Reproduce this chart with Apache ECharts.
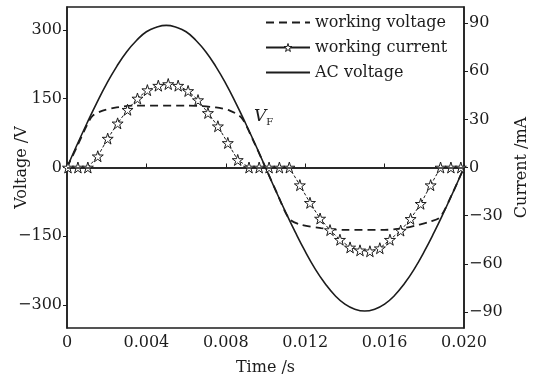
<!DOCTYPE html>
<html>
<head>
<meta charset="utf-8">
<script src="https://cdn.jsdelivr.net/npm/echarts@6/dist/echarts.min.js"></script>
<style>
  html, body { margin: 0; padding: 0; background: #fff; }
  #chart { width: 542px; height: 379px; }
</style>
</head>
<body>
<div id="chart"></div>
<script>
// values
var acTime = [0, 0.0005, 0.001, 0.0015, 0.002, 0.0025, 0.003, 0.0035, 0.004, 0.0045,
  0.005, 0.0055, 0.006, 0.0065, 0.007, 0.0075, 0.008, 0.0085, 0.009, 0.0095,
  0.010, 0.0105, 0.011, 0.0115, 0.012, 0.0125, 0.013, 0.0135, 0.014, 0.0145,
  0.015, 0.0155, 0.016, 0.0165, 0.017, 0.0175, 0.018, 0.0185, 0.019, 0.0195, 0.020];
var acVoltage = [0, 49, 96, 141, 183, 220, 252, 277, 296, 306,
  310, 306, 296, 277, 252, 220, 183, 141, 96, 49,
  0, -49, -96, -141, -183, -221, -253, -279, -298, -309,
  -313, -309, -298, -279, -253, -221, -183, -141, -96, -49, 0];

var wvTime = [0, 0.0005, 0.001, 0.0013, 0.0018, 0.0025, 0.0035, 0.006, 0.0075, 0.0082,
  0.0088, 0.0094, 0.010, 0.0106, 0.0112, 0.0118, 0.0128, 0.014, 0.016, 0.017,
  0.0177, 0.0183, 0.0188, 0.0194, 0.020];
var workingVoltage = [0, 45, 92, 113, 124, 131, 135, 135, 131, 124,
  108, 57, 0, -58, -112, -125, -132, -136, -136, -132,
  -125, -118, -108, -58, 0];

var iTime = [0.00005, 0.00055, 0.00105, 0.00155, 0.00205, 0.00255, 0.00305, 0.00355, 0.00405, 0.0046,
  0.0051, 0.0056, 0.0061, 0.0066, 0.0071, 0.0076, 0.0081, 0.0086, 0.00917, 0.00968,
  0.01018, 0.0107, 0.0112, 0.01173, 0.01224, 0.01275, 0.01325, 0.01375, 0.01426, 0.01476,
  0.01526, 0.01576, 0.01627, 0.01681, 0.01731, 0.01782, 0.01832, 0.01882, 0.01934, 0.01984];
var workingCurrent = [0, 0, 0, 7, 18, 27.5, 36, 43, 48.2, 51,
  52, 51, 47.7, 42, 34, 25.7, 15.3, 4.7, 0, 0,
  0, 0, 0, -11, -22, -31.8, -39, -45, -49.8, -51.6,
  -52.2, -50.3, -45, -39.3, -32, -22.6, -11, 0, 0, 0];

var voltTicks = [-300, -150, 0, 150, 300];
var currTicks = [-90, -60, -30, 0, 30, 60, 90];

function pairs(xs, ys) {
  return xs.map(function (x, k) { return [x, ys[k]]; });
}
function minus(v) {
  return String(v).replace('-', '\u2212');
}

var ink = '#1c1c1c';
var serif = 'DejaVu Serif';
var star = 'path://M50,0 L61,35 L98,35 L68,57 L79,91 L50,70 L21,91 L32,57 L2,35 L39,35 Z';

var chart = echarts.init(document.getElementById('chart'));
chart.setOption({
  backgroundColor: '#fff',
  animation: false,
  textStyle: { fontFamily: serif, color: ink },
  grid: {
    left: 67, right: 78, top: 7, bottom: 51,
    containLabel: false, outerBoundsMode: 'none',
    show: true, borderColor: ink, borderWidth: 1.5, backgroundColor: 'transparent'
  },
  legend: {
    orient: 'vertical',
    left: 260, top: 9,
    itemWidth: 44, itemHeight: 10, itemGap: 8,
    textStyle: { fontFamily: serif, fontSize: 16, color: ink, lineHeight: 17 },
    data: [
      { name: 'working voltage', itemStyle: { opacity: 0 } },
      {
        name: 'working current', lineStyle: { type: 'solid' },
        itemStyle: { color: '#fff', borderColor: ink, borderWidth: 1 }
      },
      { name: 'AC voltage', itemStyle: { opacity: 0 } }
    ]
  },
  xAxis: {
    type: 'value', min: 0, max: 0.02, interval: 0.004,
    name: 'Time /s', nameLocation: 'middle', nameGap: 32,
    nameTextStyle: { fontFamily: serif, fontSize: 16, color: ink },
    axisLine: { lineStyle: { color: ink, width: 1.5 } },
    axisTick: { inside: true, length: 4, lineStyle: { color: ink } },
    axisLabel: {
      fontFamily: serif, fontSize: 16, color: ink, margin: 7,
      formatter: function (v) { return v === 0 ? '0' : v.toFixed(3); }
    },
    splitLine: { show: false }
  },
  yAxis: [{
    type: 'value', min: -350, max: 350,
    name: 'Voltage /V', nameLocation: 'middle', nameGap: 37, nameRotate: 90,
    nameMoveOverlap: false,
    nameTextStyle: { fontFamily: serif, fontSize: 16, color: ink },
    axisLine: { show: true, lineStyle: { color: ink, width: 1.5 } },
    axisTick: { length: 4, lineStyle: { color: ink }, customValues: voltTicks },
    axisLabel: { fontFamily: serif, fontSize: 16, color: ink, margin: 5, customValues: voltTicks, formatter: minus },
    splitLine: { show: false }
  }, {
    type: 'value', min: -100, max: 100, position: 'right',
    name: 'Current /mA', nameLocation: 'middle', nameGap: 50, nameRotate: 90,
    nameTextStyle: { fontFamily: serif, fontSize: 16, color: ink },
    axisLine: { show: true, lineStyle: { color: ink, width: 1.5 } },
    axisTick: { length: 4, lineStyle: { color: ink }, customValues: currTicks },
    axisLabel: { fontFamily: serif, fontSize: 16, color: ink, margin: 5, customValues: currTicks, formatter: minus },
    splitLine: { show: false }
  }],
  series: [{
    name: 'AC voltage', type: 'line', smooth: true, symbol: 'none',
    data: pairs(acTime, acVoltage),
    lineStyle: { color: ink, width: 1.6 },
    itemStyle: { color: ink },
    markLine: {
      silent: true, symbol: 'none', label: { show: false },
      lineStyle: { color: ink, width: 1.5, type: 'solid' },
      data: [{ yAxis: 0 }]
    },
    z: 2
  }, {
    name: 'working voltage', type: 'line', smooth: 0.3, symbol: 'none',
    data: pairs(wvTime, workingVoltage),
    lineStyle: { color: ink, width: 1.8, type: [8, 5] },
    itemStyle: { color: ink },
    markPoint: {
      symbol: 'circle', symbolSize: 0,
      label: {
        show: true, position: 'inside',
        formatter: '{v|V}{f|F}',
        rich: {
          v: { fontFamily: serif, fontStyle: 'italic', fontSize: 17, color: ink },
          f: { fontFamily: serif, fontSize: 10, color: ink, padding: [10, 0, 0, 0] }
        }
      },
      data: [{ coord: [0.0099, 110] }]
    },
    z: 3
  }, {
    name: 'working current', type: 'line', yAxisIndex: 1, smooth: false,
    symbol: star, symbolSize: 11, showAllSymbol: true,
    data: pairs(iTime, workingCurrent),
    lineStyle: { color: ink, width: 1, type: [3, 2] },
    itemStyle: { color: '#fff', borderColor: ink, borderWidth: 1 },
    z: 4
  }]
});
</script>
</body>
</html>
